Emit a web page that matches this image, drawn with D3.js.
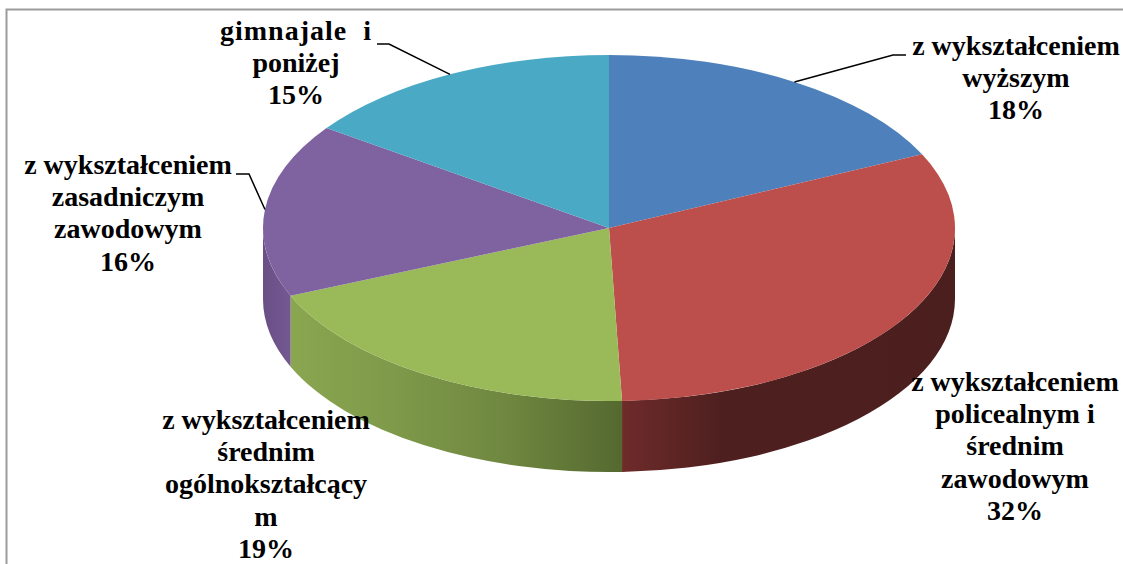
<!DOCTYPE html>
<html lang="pl">
<head>
<meta charset="utf-8">
<script src="https://cdn.jsdelivr.net/npm/d3@7/dist/d3.min.js"></script>
<style>
html,body{margin:0;padding:0;background:#fff;overflow:hidden}
svg{display:block}
text{font-family:"Liberation Serif","Times New Roman",serif;font-weight:700;font-size:28px;fill:#000;text-anchor:middle;white-space:pre}
</style>
</head>
<body>
<script>
// Data (slice shares in %, clockwise from 12 o'clock)
const categories = ["z wykształceniem wyższym","z wykształceniem policealnym i średnim zawodowym","z wykształceniem średnim ogólnokształcącym","z wykształceniem zasadniczym zawodowym","gimnazjale i poniżej"];
const values = [18.0, 31.4, 19.2, 16.2, 15.2];
const percentLabels = ["18%","32%","19%","16%","15%"];
const labelLines = [
  ["z wykształceniem","wyższym"],
  ["z wykształceniem","policealnym i","średnim","zawodowym"],
  ["z wykształceniem","średnim","ogólnokształcący","m"],
  ["z wykształceniem","zasadniczym","zawodowym"],
  ["gimnajale  i","poniżej"]
];
const topColors = ["#4e80bb","#bc4f4c","#9aba59","#7f63a1","#4aaac5"];

// Layout
const W = 1123, H = 564;
const cx = 609, cy = 228, rx = 346, ry = 173, depth = 71;
const labelPos = [[1016,55],[1015,391],[266,429],[128,174],[296,40]];
const lineStep = 32.2;
const firstLineSpacing = [0,0,0,0,1];
const leaderElbows = [[[893,55],[906,55]], null, null, [[249,174],[236,174]], [[389,44],[377,44]]];
const wallStops = [
  null,
  [[0,"#6e2b2a"],[0.3,"#4e1f1f"],[1,"#4c1f1f"]],
  [[0,"#8aa650"],[0.3,"#7f9a4a"],[0.65,"#6f8740"],[1,"#55692f"]],
  [[0,"#6a4f87"],[1,"#735891"]],
  null
];

const svg = d3.select("body").append("svg").attr("width",W).attr("height",H);
const defs = svg.append("defs");

// Frame
svg.append("path").attr("d",`M${W},9.5H6.5V${H}`).attr("fill","none").attr("stroke","#9c9c9c").attr("stroke-width",2);

const sx = d3.scaleLinear().domain([-1,1]).range([cx-rx,cx+rx]);
const sy = d3.scaleLinear().domain([-1,1]).range([cy-ry,cy+ry]);
const rimX = a => sx(Math.sin(a));
const rimY = a => sy(-Math.cos(a));

const arcs = d3.pie().sort(null)(values);

// Front walls: only the part of the rim between 3 o'clock and 9 o'clock shows
const wall = svg.append("g");
arcs.forEach((d,i)=>{
  const a0 = Math.max(d.startAngle, Math.PI/2), a1 = Math.min(d.endAngle, 3*Math.PI/2);
  if (a1 <= a0 || !wallStops[i]) return;
  const x0 = rimX(a0), x1 = rimX(a1), y0 = rimY(a0), y1 = rimY(a1);
  const g = defs.append("linearGradient").attr("id","wall"+i).attr("gradientUnits","userSpaceOnUse")
    .attr("x1",x1).attr("x2",x0).attr("y1",0).attr("y2",0);
  wallStops[i].forEach(s=>g.append("stop").attr("offset",s[0]).attr("stop-color",s[1]));
  wall.append("path")
    .attr("d",`M${x0},${y0}A${rx},${ry} 0 0 1 ${x1},${y1}V${y1+depth}A${rx},${ry} 0 0 0 ${x0},${y0+depth}Z`)
    .attr("fill",`url(#wall${i})`);
});

// Top face
const arcGen = d3.arc().innerRadius(0).outerRadius(100);
svg.append("g").attr("transform",`translate(${cx},${cy}) scale(${rx/100},${ry/100})`)
  .selectAll("path").data(arcs).join("path")
  .attr("d",arcGen).attr("fill",(d,i)=>topColors[i]);

// Leader lines, from the rim at each slice's middle angle
const leader = d3.line();
arcs.forEach((d,i)=>{
  if (!leaderElbows[i]) return;
  const mid = (d.startAngle+d.endAngle)/2;
  svg.append("path").attr("d",leader([[rimX(mid),rimY(mid)],...leaderElbows[i]]))
    .attr("fill","none").attr("stroke","#000").attr("stroke-width",1.5);
});

// Labels
categories.forEach((c,i)=>{
  const t = svg.append("text").attr("aria-label",c);
  labelLines[i].concat(percentLabels[i]).forEach((s,k)=>{
    t.append("tspan").attr("x",labelPos[i][0]).attr("y",labelPos[i][1]+k*lineStep)
      .attr("letter-spacing",k===0&&firstLineSpacing[i]?firstLineSpacing[i]:null).text(s);
  });
});
</script>
</body>
</html>
